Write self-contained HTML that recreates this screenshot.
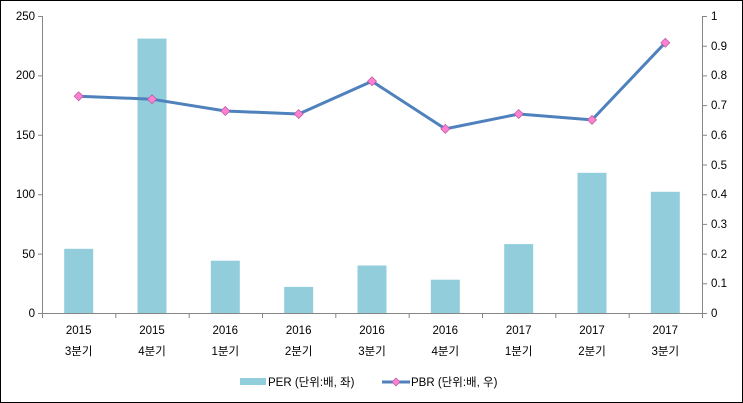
<!DOCTYPE html><html><head><meta charset="utf-8"><style>body{margin:0}svg{display:block}text{font-family:"Liberation Sans","Noto Sans CJK KR",sans-serif;font-size:11.5px;fill:#000}</style></head><body>
<svg width="743" height="403" xmlns="http://www.w3.org/2000/svg">
<rect x="0.5" y="0.5" width="742" height="402" fill="#fff" stroke="#000"/>
<g fill="#92CDDC">
<rect x="64.2" y="248.8" width="29" height="64.2"/>
<rect x="137.5" y="38.6" width="29" height="274.4"/>
<rect x="210.8" y="260.7" width="29" height="52.3"/>
<rect x="284.2" y="286.9" width="29" height="26.1"/>
<rect x="357.5" y="265.5" width="29" height="47.5"/>
<rect x="430.8" y="279.7" width="29" height="33.3"/>
<rect x="504.2" y="244.1" width="29" height="68.9"/>
<rect x="577.5" y="172.8" width="29" height="140.2"/>
<rect x="650.8" y="191.8" width="29" height="121.2"/>
</g>
<g stroke="#868686" stroke-width="1">
<line x1="42.5" y1="16" x2="42.5" y2="313"/>
<line x1="702.5" y1="16" x2="702.5" y2="313"/>
<line x1="42" y1="313.5" x2="702" y2="313.5"/>
<path d="M38 16.5h4M38 75.9h4M38 135.3h4M38 194.7h4M38 254.1h4M38 313.5h4"/>
<path d="M703 16.5h4M703 46.2h4M703 75.9h4M703 105.6h4M703 135.3h4M703 165h4M703 194.7h4M703 224.4h4M703 254.1h4M703 283.8h4M703 313.5h4"/>
<path d="M42.5 313v5M115.8 313v5M189.2 313v5M262.5 313v5M335.8 313v5M409.2 313v5M482.5 313v5M555.8 313v5M629.2 313v5M702.5 313v5"/>
</g>
<g text-anchor="end">
<text x="35" y="20">250</text><text x="35" y="79">200</text><text x="35" y="139">150</text><text x="35" y="198">100</text><text x="35" y="258">50</text><text x="35" y="317">0</text>
</g>
<g>
<text x="711" y="20">1</text><text x="711" y="50">0.9</text><text x="711" y="79">0.8</text><text x="711" y="109">0.7</text><text x="711" y="139">0.6</text><text x="711" y="169">0.5</text><text x="711" y="198">0.4</text><text x="711" y="228">0.3</text><text x="711" y="258">0.2</text><text x="711" y="287">0.1</text><text x="711" y="317">0</text>
</g>
<g text-anchor="middle">
<text x="78.7" y="334">2015</text><text x="78.7" y="355">3분기</text>
<text x="152" y="334">2015</text><text x="152" y="355">4분기</text>
<text x="225.3" y="334">2016</text><text x="225.3" y="355">1분기</text>
<text x="298.7" y="334">2016</text><text x="298.7" y="355">2분기</text>
<text x="372" y="334">2016</text><text x="372" y="355">3분기</text>
<text x="445.3" y="334">2016</text><text x="445.3" y="355">4분기</text>
<text x="518.7" y="334">2017</text><text x="518.7" y="355">1분기</text>
<text x="592" y="334">2017</text><text x="592" y="355">2분기</text>
<text x="665.3" y="334">2017</text><text x="665.3" y="355">3분기</text>
</g>
<polyline fill="none" stroke="#4F81BD" stroke-width="3" stroke-linejoin="round" points="78.7,96.2 152,99.2 225.3,111 298.7,114 372,81.3 445.3,128.9 518.7,114 592,119.9 665.3,42.7"/>
<g fill="#FF7FD0" stroke="#B35AA0" stroke-width="0.7">
<path d="M78.7 91.7l4.5 4.5-4.5 4.5-4.5-4.5z"/><path d="M152 94.7l4.5 4.5-4.5 4.5-4.5-4.5z"/><path d="M225.3 106.5l4.5 4.5-4.5 4.5-4.5-4.5z"/><path d="M298.7 109.5l4.5 4.5-4.5 4.5-4.5-4.5z"/><path d="M372 76.8l4.5 4.5-4.5 4.5-4.5-4.5z"/><path d="M445.3 124.4l4.5 4.5-4.5 4.5-4.5-4.5z"/><path d="M518.7 109.5l4.5 4.5-4.5 4.5-4.5-4.5z"/><path d="M592 115.4l4.5 4.5-4.5 4.5-4.5-4.5z"/><path d="M665.3 38.2l4.5 4.5-4.5 4.5-4.5-4.5z"/>
</g>
<rect x="240" y="378" width="26" height="7" fill="#92CDDC"/>
<text x="268" y="386">PER (단위:배, 좌)</text>
<line x1="382" y1="382" x2="410" y2="382" stroke="#4F81BD" stroke-width="3"/>
<path d="M396 378l4 4-4 4-4-4z" fill="#FF7FD0" stroke="#B35AA0" stroke-width="0.7"/>
<text x="411" y="386">PBR (단위:배, 우)</text>
</svg></body></html>
